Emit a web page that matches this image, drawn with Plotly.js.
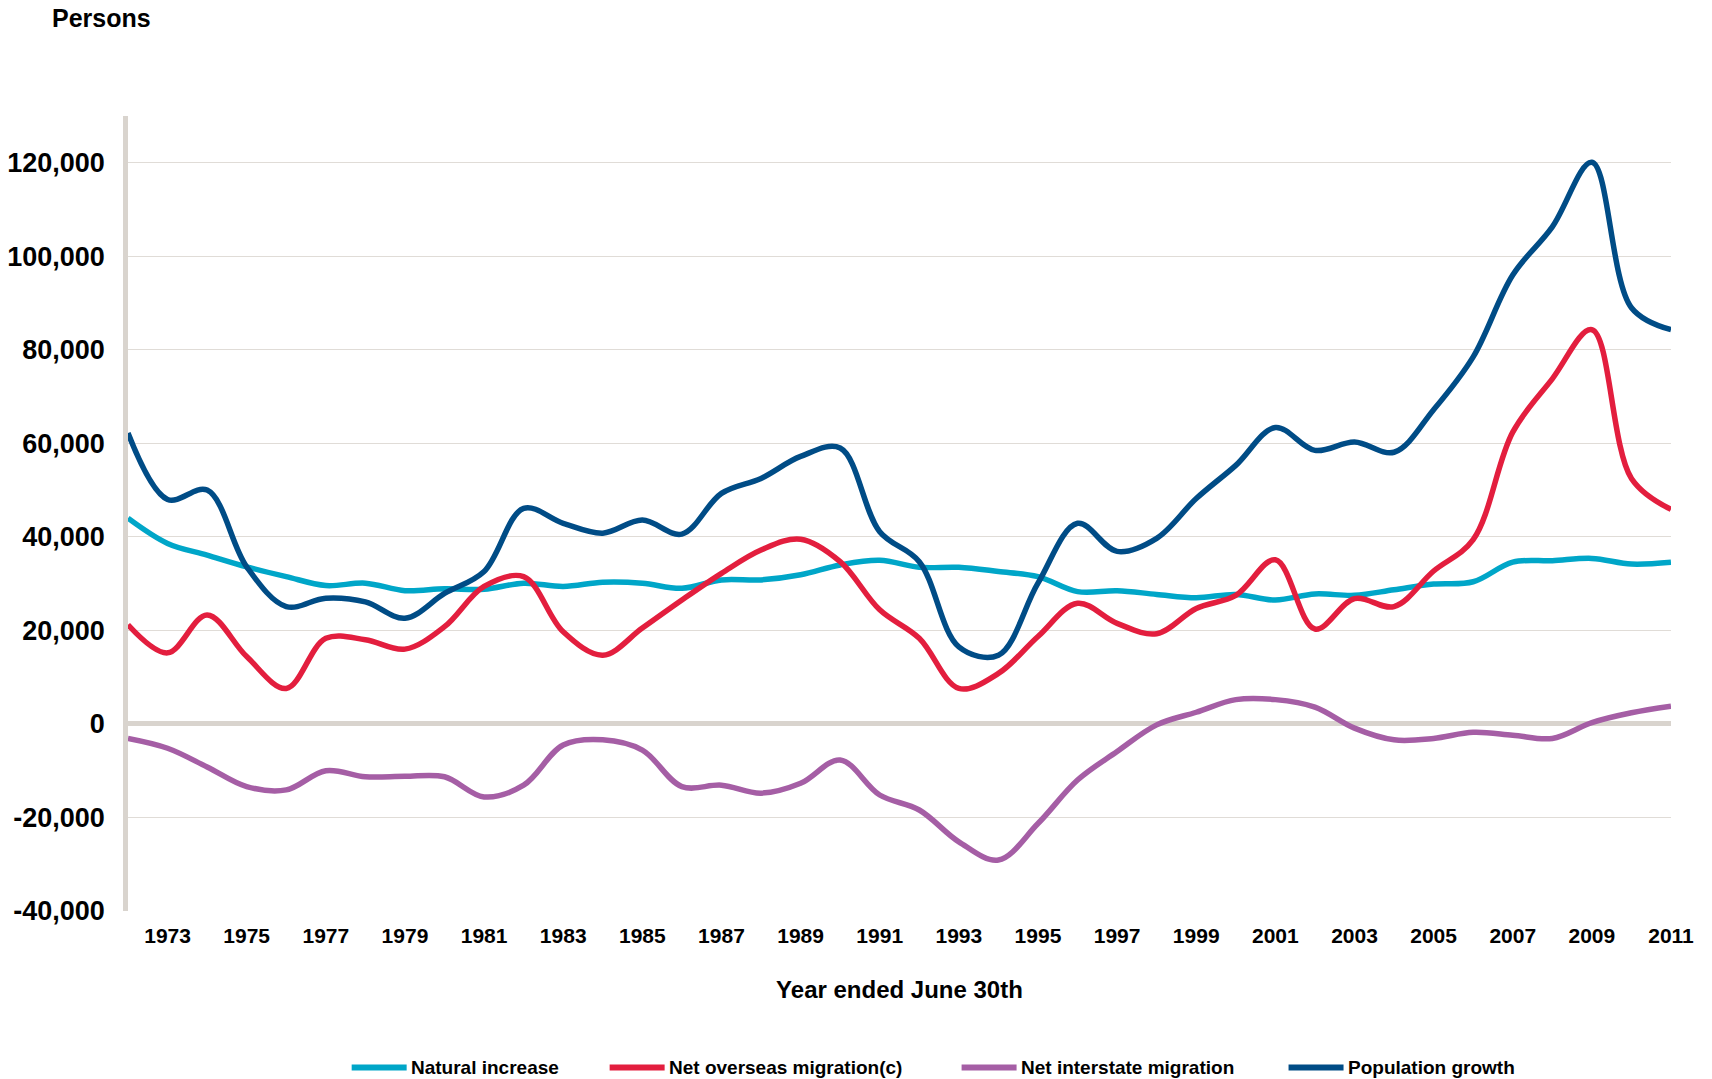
<!DOCTYPE html>
<html>
<head>
<meta charset="utf-8">
<script src="https://cdn.plot.ly/plotly-3.0.1.min.js"></script>
<style>
  html, body { margin: 0; padding: 0; background: #ffffff; }
  #chart { width: 1712px; height: 1079px; }
</style>
</head>
<body>
<div id="chart"></div>
<script>
// ---- Data ----
const years = [1972,1973,1974,1975,1976,1977,1978,1979,1980,1981,1982,1983,1984,1985,1986,1987,1988,1989,1990,1991,
               1992,1993,1994,1995,1996,1997,1998,1999,2000,2001,2002,2003,2004,2005,2006,2007,2008,2009,2010,2011];

const naturalIncrease = [44000,38600,36100,33600,31500,29600,30100,28500,28900,28800,30100,29400,30300,30100,29000,30800,30800,31900,34000,35000,
                         33500,33500,32600,31500,28300,28500,27700,27000,27700,26500,27800,27500,28700,29900,30400,34600,34900,35400,34200,34600];

const netOverseasMigration = [21200,15200,23300,14400,7600,18300,18000,16000,20800,29400,31500,19700,14700,20500,26500,32200,37200,39500,34700,24400,
                              18300,7600,10800,18700,25800,21500,19300,24700,27500,35100,20300,26800,25100,32700,39400,62400,73800,84300,52500,45900];

const netInterstateMigration = [-3100,-5200,-9200,-13400,-14100,-10000,-11300,-11200,-11300,-15600,-13100,-4500,-3400,-5600,-13400,-13100,-14800,-12700,-7700,-15200,
                                -18400,-25200,-29100,-21300,-12000,-5900,-200,2500,5200,5200,3600,-900,-3400,-3100,-1800,-2400,-3100,300,2400,3800];

const populationGrowth = [62200,48000,50000,33600,25100,26900,26100,22600,27900,32600,46100,42900,40800,43600,40600,49300,52500,57200,59000,41100,
                          34700,16500,14700,30100,42900,36900,39700,48200,55300,63400,58500,60300,58100,67200,78500,96000,106300,120100,89000,84300];

const seriesNames = ["Natural increase", "Net overseas migration(c)", "Net interstate migration", "Population growth"];
const xTickYears = [1973,1975,1977,1979,1981,1983,1985,1987,1989,1991,1993,1995,1997,1999,2001,2003,2005,2007,2009,2011];
const yTickValues = [-40000,-20000,0,20000,40000,60000,80000,100000,120000];
const yTickLabels = ["-40,000","-20,000","0","20,000","40,000","60,000","80,000","100,000","120,000"];

// ---- Styles ----
const colors = ["#00A6C8", "#E31E3E", "#A55EA5", "#004C86"];
const seriesValues = [naturalIncrease, netOverseasMigration, netInterstateMigration, populationGrowth];
const FONT = "Liberation Sans, Arial, Helvetica, sans-serif";

const traces = seriesValues.map((vals, i) => ({
  type: "scatter",
  mode: "lines",
  x: years,
  y: vals,
  name: seriesNames[i],
  line: { color: colors[i], width: 5.5, shape: "spline", smoothing: 1 },
  showlegend: false,
  hoverinfo: "x+y+name"
}));

// ---- Layout geometry ----
const W = 1712, H = 1079;
const mL = 128.3, mR = W - 1671.5, mT = 116, mB = H - 910.6;
const plotW = W - mL - mR, plotH = H - mT - mB;
const px2paperX = p => (p - mL) / plotW;
const px2paperY = p => (H - mB - p) / plotH;

// custom legend (line sample + label) laid out like the reference
const legendLineStart = [352, 610, 962, 1289];
const legendLineLen = 55;
const legendY = 1067;
const shapes = [];
const annotations = [];
seriesNames.forEach((n, i) => {
  shapes.push({
    type: "line", xref: "paper", yref: "paper",
    x0: px2paperX(legendLineStart[i]), x1: px2paperX(legendLineStart[i] + legendLineLen),
    y0: px2paperY(legendY), y1: px2paperY(legendY),
    line: { color: colors[i], width: 6 }
  });
  annotations.push({
    xref: "paper", yref: "paper",
    x: px2paperX(legendLineStart[i] + legendLineLen + 2), y: px2paperY(legendY),
    xanchor: "left", yanchor: "middle", showarrow: false,
    text: n,
    font: { family: FONT, size: 19, color: "#000000", weight: "bold" }
  });
});

annotations.push({
  xref: "paper", yref: "paper",
  x: px2paperX(50), y: px2paperY(18.5),
  xanchor: "left", yanchor: "middle", showarrow: false,
  text: "Persons",
  font: { family: FONT, size: 25, color: "#000000", weight: "bold" }
});

const layout = {
  width: W, height: H,
  margin: { l: mL, r: mR, t: mT, b: mB, pad: 0 },
  paper_bgcolor: "#ffffff",
  plot_bgcolor: "#ffffff",
  showlegend: false,
  xaxis: {
    range: [1972, 2011],
    tickmode: "array",
    tickvals: xTickYears,
    ticktext: xTickYears.map(String),
    showgrid: false,
    zeroline: false,
    showline: false,
    ticks: "",
    ticklabelstandoff: 10,
    tickfont: { family: FONT, size: 21, color: "#000000", weight: "bold" },
    title: {
      text: "Year ended June 30th",
      font: { family: FONT, size: 24, color: "#000000", weight: "bold" },
      standoff: 35
    },
    fixedrange: true
  },
  yaxis: {
    range: [-40000, 130000],
    tickmode: "array",
    tickvals: yTickValues,
    ticktext: yTickLabels,
    showgrid: true,
    gridcolor: "#E0DCD7",
    gridwidth: 1.3,
    zeroline: true,
    zerolinecolor: "#D9D4CE",
    zerolinewidth: 4.5,
    showline: true,
    linecolor: "#D9D4CE",
    linewidth: 4.5,
    ticks: "",
    ticklabelstandoff: 13,
    tickfont: { family: FONT, size: 27, color: "#000000", weight: "bold" },
    fixedrange: true
  },
  shapes: shapes,
  annotations: annotations
};

Plotly.newPlot("chart", traces, layout, { displayModeBar: false, staticPlot: false });
</script>
</body>
</html>
